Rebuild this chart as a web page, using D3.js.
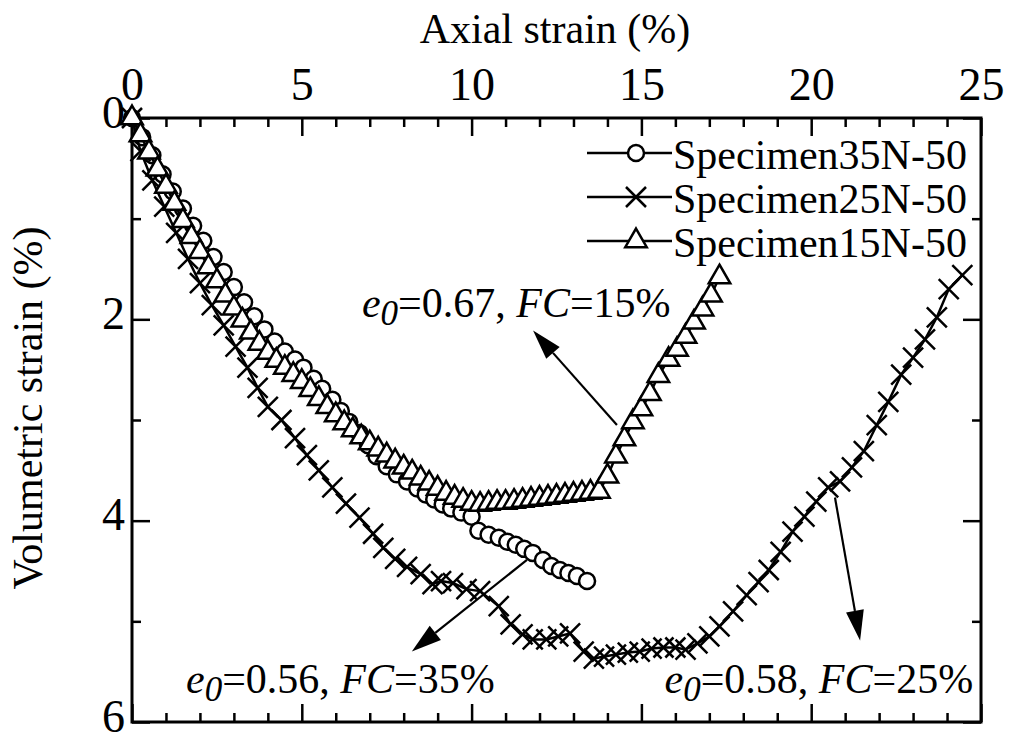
<!DOCTYPE html>
<html>
<head>
<meta charset="utf-8">
<style>
  body { margin: 0; background: #fff; }
  svg text { font-family: 'Liberation Serif', 'Times New Roman', serif; fill: #000; }
</style>
</head>
<body>
<div id="chart"></div>
<script src="https://d3js.org/d3.v7.min.js"></script>
<script>
// series: axial strain (%) / volumetric strain (%)
var names = ["Specimen35N-50", "Specimen25N-50", "Specimen15N-50"];

var ax35 = [0, 0.3, 0.6, 0.9, 1.2, 1.5, 1.8, 2.1, 2.4, 2.7, 3.0, 3.3, 3.6, 3.9, 4.2, 4.5, 4.8, 5.05, 5.35, 5.6, 5.9, 6.15, 6.4, 6.7, 6.95, 7.2, 7.5, 7.8, 8.1, 8.4, 8.65, 8.9, 9.15, 9.4, 9.7, 10.0, 10.2, 10.5, 10.8, 11.05, 11.3, 11.55, 11.8, 12.1, 12.35, 12.6, 12.85, 13.1, 13.4];
var vol35 = [0, 0.19, 0.37, 0.56, 0.73, 0.9, 1.07, 1.22, 1.38, 1.53, 1.68, 1.83, 1.97, 2.1, 2.22, 2.32, 2.4, 2.48, 2.59, 2.69, 2.8, 2.91, 3.02, 3.13, 3.25, 3.36, 3.46, 3.54, 3.61, 3.68, 3.74, 3.79, 3.84, 3.88, 3.92, 3.96, 4.1, 4.14, 4.17, 4.21, 4.24, 4.28, 4.32, 4.39, 4.45, 4.49, 4.52, 4.55, 4.6];

var ax25 = [0, 0.25, 0.6, 0.95, 1.3, 1.65, 2.0, 2.35, 2.7, 3.05, 3.4, 3.7, 4.0, 4.4, 4.8, 5.15, 5.5, 5.9, 6.3, 6.7, 7.1, 7.4, 7.75, 8.1, 8.5, 8.85, 9.1, 9.45, 9.85, 10.25, 10.8, 11.15, 11.5, 11.8, 12.2, 12.55, 12.9, 13.3, 13.6, 13.9, 14.25, 14.6, 14.95, 15.3, 15.65, 16.0, 16.3, 16.65, 17.0, 17.3, 17.7, 18.1, 18.45, 18.75, 19.1, 19.45, 19.8, 20.15, 20.5, 20.85, 21.2, 21.55, 21.93, 22.27, 22.65, 23.0, 23.35, 23.7, 24.05, 24.45];
var vol25 = [0, 0.33, 0.62, 0.88, 1.14, 1.4, 1.64, 1.86, 2.06, 2.27, 2.48, 2.68, 2.87, 3.0, 3.18, 3.35, 3.5, 3.67, 3.83, 3.97, 4.13, 4.27, 4.38, 4.46, 4.53, 4.63, 4.6, 4.62, 4.68, 4.7, 4.85, 5.03, 5.13, 5.18, 5.18, 5.15, 5.12, 5.3, 5.37, 5.35, 5.33, 5.31, 5.3, 5.27, 5.26, 5.26, 5.28, 5.22, 5.15, 5.05, 4.9, 4.74, 4.61, 4.49, 4.31, 4.11, 3.96, 3.81, 3.67, 3.61, 3.47, 3.31, 3.05, 2.82, 2.55, 2.38, 2.2, 1.98, 1.7, 1.56];

var ax15 = [0, 0.25, 0.5, 0.75, 1.0, 1.25, 1.5, 1.75, 2.0, 2.25, 2.5, 2.75, 3.0, 3.25, 3.5, 3.75, 4.0, 4.25, 4.5, 4.75, 5.0, 5.25, 5.5, 5.75, 6.0, 6.25, 6.5, 6.75, 7.0, 7.25, 7.5, 7.75, 8.0, 8.25, 8.5, 8.75, 9.0, 9.25, 9.5, 9.75, 10.0, 10.25, 10.5, 10.75, 11.0, 11.25, 11.5, 11.75, 12.0, 12.25, 12.5, 12.75, 13.0, 13.25, 13.5, 13.75, 14.0, 14.25, 14.5, 14.75, 15.0, 15.25, 15.5, 15.8, 16.05, 16.3, 16.55, 16.8, 17.05, 17.3];
var vol15 = [0, 0.17, 0.34, 0.51, 0.68, 0.85, 1.02, 1.18, 1.33, 1.48, 1.62, 1.76, 1.89, 2.01, 2.13, 2.24, 2.33, 2.41, 2.48, 2.55, 2.62, 2.7, 2.79, 2.87, 2.95, 3.03, 3.1, 3.17, 3.23, 3.29, 3.35, 3.41, 3.47, 3.52, 3.58, 3.63, 3.68, 3.73, 3.77, 3.8, 3.83, 3.84, 3.83, 3.82, 3.82, 3.81, 3.8, 3.79, 3.78, 3.77, 3.76, 3.75, 3.74, 3.73, 3.72, 3.71, 3.56, 3.36, 3.19, 3.02, 2.89, 2.74, 2.56, 2.4, 2.3, 2.17, 2.03, 1.9, 1.76, 1.58];

var xMajor = [0, 5, 10, 15, 20, 25];
var xMinor = [1, 2, 3, 4, 6, 7, 8, 9, 11, 12, 13, 14, 16, 17, 18, 19, 21, 22, 23, 24];
var yMajor = [0, 2, 4, 6];
var yMinor = [1, 3, 5];

// annotations: e0, FC, arrow tail / tip in data units
var noteE0 = ["0.67", "0.56", "0.58"];
var noteFC = ["15%", "35%", "25%"];
var noteTail = [[14.28, 3.05], [11.63, 4.39], [20.7, 3.77]];
var noteTip = [[11.81, 2.11], [8.24, 5.3], [21.44, 5.19]];
var noteText = [[6.77, 1.98, "start"], [1.59, 5.71, "start"], [24.77, 5.71, "end"]];

var width = 1009, height = 740;
var svg = d3.select("#chart").append("svg")
  .attr("width", width).attr("height", height);

var x = d3.scaleLinear().domain([0, 25]).range([132, 981]);
var y = d3.scaleLinear().domain([0, 6]).range([118, 722]);

function styleAxis(g) {
  g.attr("font-family", null);
  g.select(".domain").remove();
  g.selectAll(".tick line").attr("stroke", "#000").attr("stroke-width", 2.5);
  g.selectAll("text").attr("font-size", 46).attr("fill", "#000");
}

// top axis with labels
svg.append("g").attr("transform", "translate(0,118)")
  .call(d3.axisTop(x).tickValues(xMajor).tickSize(-18).tickPadding(18).tickSizeOuter(0).tickFormat(d3.format("d")))
  .call(styleAxis);
svg.append("g").attr("transform", "translate(0,118)")
  .call(d3.axisTop(x).tickValues(xMinor).tickSize(-9).tickFormat("").tickSizeOuter(0))
  .call(styleAxis);
// bottom axis
svg.append("g").attr("transform", "translate(0,722)")
  .call(d3.axisBottom(x).tickValues(xMajor).tickSize(-18).tickFormat("").tickSizeOuter(0))
  .call(styleAxis);
svg.append("g").attr("transform", "translate(0,722)")
  .call(d3.axisBottom(x).tickValues(xMinor).tickSize(-9).tickFormat("").tickSizeOuter(0))
  .call(styleAxis);
// left axis with labels
svg.append("g").attr("transform", "translate(132,0)")
  .call(d3.axisLeft(y).tickValues(yMajor).tickSize(-18).tickPadding(7).tickSizeOuter(0).tickFormat(d3.format("d")))
  .call(styleAxis)
  .call(function(g) { g.selectAll("text").attr("dy", "0.2em"); });
svg.append("g").attr("transform", "translate(132,0)")
  .call(d3.axisLeft(y).tickValues(yMinor).tickSize(-9).tickFormat("").tickSizeOuter(0))
  .call(styleAxis);
// right axis
svg.append("g").attr("transform", "translate(981,0)")
  .call(d3.axisRight(y).tickValues(yMajor).tickSize(-18).tickFormat("").tickSizeOuter(0))
  .call(styleAxis);
svg.append("g").attr("transform", "translate(981,0)")
  .call(d3.axisRight(y).tickValues(yMinor).tickSize(-9).tickFormat("").tickSizeOuter(0))
  .call(styleAxis);

svg.append("rect")
  .attr("x", 132).attr("y", 118).attr("width", 981 - 132).attr("height", 722 - 118)
  .attr("fill", "none").attr("stroke", "#000").attr("stroke-width", 3);

// axis titles
svg.append("text").attr("x", 555).attr("y", 43).attr("text-anchor", "middle")
  .attr("font-size", 42).text("Axial strain (%)");
svg.append("text").attr("transform", "translate(42,408) rotate(-90)")
  .attr("text-anchor", "middle").attr("font-size", 42).text("Volumetric strain (%)");

// markers
var circleSym = d3.symbol().type(d3.symbolCircle).size(Math.PI * 8 * 8);
var triSym = d3.symbol().type(d3.symbolTriangle).size(200);
var crossPath = "M-10,-10L10,10M10,-10L-10,10";
var shapes = [circleSym(), crossPath, triSym()];

var series = [
  { xs: ax35, ys: vol35, shape: 0 },
  { xs: ax25, ys: vol25, shape: 1 },
  { xs: ax15, ys: vol15, shape: 2 }
];

var line = d3.line().x(function(d) { return x(d[0]); }).y(function(d) { return y(d[1]); });

series.forEach(function(s) {
  var pts = s.xs.map(function(v, i) { return [v, s.ys[i]]; });
  var g = svg.append("g");
  g.append("path").datum(pts).attr("d", line)
    .attr("fill", "none").attr("stroke", "#000").attr("stroke-width", 2.5);
  g.selectAll("path.m").data(pts).enter().append("path")
    .attr("class", "m")
    .attr("transform", function(d) { return "translate(" + x(d[0]) + "," + y(d[1]) + ")"; })
    .attr("d", shapes[s.shape])
    .attr("fill", s.shape === 1 ? "none" : "#fff")
    .attr("stroke", "#000").attr("stroke-width", 2.5);
});

// legend
var legend = svg.append("g");
names.forEach(function(n, i) {
  var cy = 153 + i * 44;
  legend.append("line").attr("x1", 587).attr("x2", 672).attr("y1", cy).attr("y2", cy)
    .attr("stroke", "#000").attr("stroke-width", 2.5);
  legend.append("path").attr("transform", "translate(636," + cy + ")")
    .attr("d", shapes[i]).attr("fill", i === 1 ? "none" : "#fff")
    .attr("stroke", "#000").attr("stroke-width", 2.5);
  legend.append("text").attr("x", 673).attr("y", cy + 16).attr("font-size", 42).text(n);
});

// annotations
noteE0.forEach(function(e0, i) {
  var t = svg.append("text")
    .attr("x", x(noteText[i][0])).attr("y", y(noteText[i][1]))
    .attr("text-anchor", noteText[i][2]).attr("font-size", 42);
  t.append("tspan").attr("font-style", "italic").text("e");
  t.append("tspan").attr("font-style", "italic").attr("font-size", 35).attr("dy", 8).text("0");
  t.append("tspan").attr("dy", -8).text("=" + e0 + ", ");
  t.append("tspan").attr("font-style", "italic").text("FC");
  t.append("tspan").text("=" + noteFC[i]);

  var x0 = x(noteTail[i][0]), y0 = y(noteTail[i][1]);
  var x1 = x(noteTip[i][0]), y1 = y(noteTip[i][1]);
  var ang = Math.atan2(y1 - y0, x1 - x0);
  var len = 30, hw = 9;
  var bx = x1 - len * Math.cos(ang), by = y1 - len * Math.sin(ang);
  svg.append("line").attr("x1", x0).attr("y1", y0).attr("x2", bx).attr("y2", by)
    .attr("stroke", "#000").attr("stroke-width", 2.2);
  svg.append("path")
    .attr("d", "M" + x1 + "," + y1 +
      "L" + (bx + hw * Math.sin(ang)) + "," + (by - hw * Math.cos(ang)) +
      "L" + (bx - hw * Math.sin(ang)) + "," + (by + hw * Math.cos(ang)) + "Z")
    .attr("fill", "#000");
});
</script>
</body>
</html>
